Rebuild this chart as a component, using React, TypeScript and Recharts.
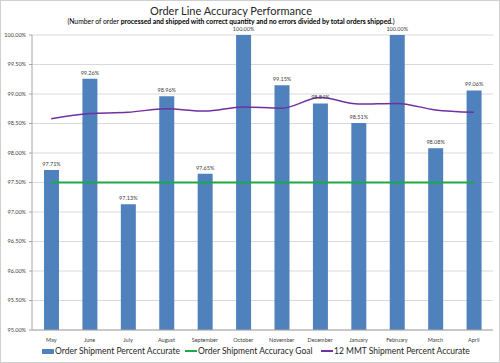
import React from 'react';
import {
  ComposedChart,
  Bar,
  Line,
  XAxis,
  YAxis,
  CartesianGrid,
  LabelList,
} from 'recharts';

// values
const months = [
  'May', 'June', 'July', 'August', 'September', 'October',
  'November', 'December', 'January', 'February', 'March', 'April',
];
const shipmentAccuracy = [97.71, 99.26, 97.13, 98.96, 97.65, 100.0, 99.15, 98.84, 98.51, 100.0, 98.08, 99.06];
const accuracyGoal = [97.5, 97.5, 97.5, 97.5, 97.5, 97.5, 97.5, 97.5, 97.5, 97.5, 97.5, 97.5];
const rolling12 = [98.58, 98.67, 98.69, 98.75, 98.71, 98.78, 98.76, 98.94, 98.83, 98.84, 98.73, 98.69];
const yTicks = [95, 95.5, 96, 96.5, 97, 97.5, 98, 98.5, 99, 99.5, 100];

const BLUE = '#4F81BD';
const GREEN = '#1FA84A';
const PURPLE = '#7030A0';
const FONT = 'Lato, "Open Sans", sans-serif';

const chartData = months.map((m, i) => ({
  month: m,
  actual: shipmentAccuracy[i],
  goal: accuracyGoal[i],
  mmt: rolling12[i],
}));

const pct = (v: number) => `${Number(v).toFixed(2)}%`;

export default function App() {
  return (
    <div
      style={{
        position: 'absolute',
        left: 0,
        top: 0,
        width: 500,
        height: 363,
        background: '#fff',
        fontFamily: FONT,
      }}
    >
      <ComposedChart
        width={500}
        height={363}
        data={chartData}
        margin={{ top: 35, right: 7, bottom: 19, left: 0 }}
      >
        <CartesianGrid vertical={false} stroke="#D9D9D9" />
        <XAxis
          dataKey="month"
          height={14}
          tick={{ fontSize: 5.5, fill: '#404040', fontFamily: FONT }}
          tickLine={false}
          axisLine={{ stroke: '#A6A6A6' }}
          interval={0}
        />
        <YAxis
          domain={[95, 100]}
          ticks={yTicks}
          width={32}
          tickFormatter={pct}
          tick={{ fontSize: 5.5, fill: '#404040', fontFamily: FONT }}
          tickSize={3}
          tickMargin={3}
          tickLine={{ stroke: '#A6A6A6' }}
          axisLine={{ stroke: '#A6A6A6' }}
          allowDataOverflow
        />
        <Bar dataKey="actual" fill={BLUE} barSize={15} isAnimationActive={false}>
          <LabelList
            dataKey="actual"
            position="top"
            offset={4}
            formatter={(v: any) => pct(v)}
            style={{ fontSize: 5.5, fill: '#404040', fontFamily: FONT }}
          />
        </Bar>
        <Line
          dataKey="goal"
          type="linear"
          stroke={GREEN}
          strokeWidth={2}
          dot={false}
          isAnimationActive={false}
        />
        <Line
          dataKey="mmt"
          type="monotone"
          stroke={PURPLE}
          strokeWidth={1.5}
          dot={false}
          isAnimationActive={false}
        />
      </ComposedChart>

      <div
        style={{
          position: 'absolute',
          left: 0,
          width: 462,
          top: 4,
          textAlign: 'center',
          fontSize: 11,
          lineHeight: '14px',
          color: '#262626',
        }}
      >
        Order Line Accuracy Performance
      </div>
      <div
        style={{
          position: 'absolute',
          left: 0,
          width: 462,
          top: 17,
          textAlign: 'center',
          fontSize: 6.8,
          lineHeight: '8px',
          color: '#000',
          whiteSpace: 'nowrap',
        }}
      >
        (Number of order <b>processed and shipped with correct quantity and no errors divided by total orders shipped.</b>)
      </div>

      <div
        style={{
          position: 'absolute',
          left: 0,
          top: 346,
          width: 500,
          fontSize: 8.5,
          color: '#262626',
          whiteSpace: 'nowrap',
        }}
      >
        <span style={{ position: 'absolute', left: 42, top: 0, display: 'flex', alignItems: 'center' }}>
          <span style={{ display: 'inline-block', width: 12, height: 5, background: BLUE, marginRight: 1 }} />
          Order Shipment Percent Accurate
        </span>
        <span style={{ position: 'absolute', left: 185, top: 0, display: 'flex', alignItems: 'center' }}>
          <span style={{ display: 'inline-block', width: 12, height: 2, background: GREEN, marginRight: 1 }} />
          Order Shipment Accuracy Goal
        </span>
        <span style={{ position: 'absolute', left: 321, top: 0, display: 'flex', alignItems: 'center' }}>
          <span style={{ display: 'inline-block', width: 12, height: 2, background: PURPLE, marginRight: 1 }} />
          12 MMT Shipment Percent Accurate
        </span>
      </div>

      <div
        style={{
          position: 'absolute',
          left: 0,
          top: 0,
          width: 498,
          height: 361,
          border: '1px solid #D0D0D0',
          pointerEvents: 'none',
        }}
      />
    </div>
  );
}
